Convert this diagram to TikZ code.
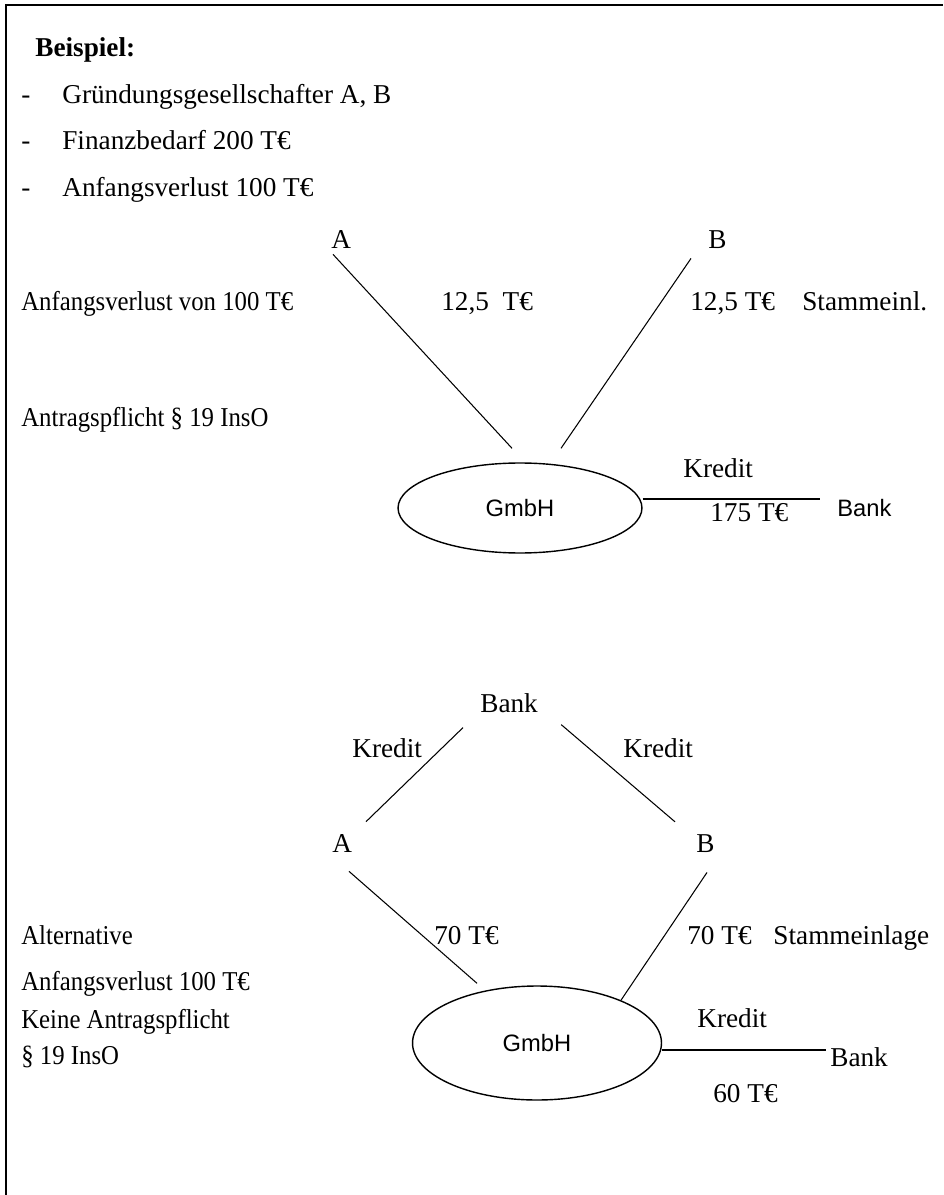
\documentclass[tikz,border=0pt]{standalone}
\usepackage{fontspec}
\setmainfont{Liberation Serif}
\setsansfont{Liberation Sans}
\newfontfamily\schmal[FakeStretch=0.91]{Liberation Serif}
\usetikzlibrary{calc}
\usetikzlibrary{shapes.geometric}
\tikzset{
	% Text set at its baseline, ellipse for the company, thin links
	plain text/.style={anchor=base west,inner sep=0pt,font=\fontsize{15.5}{18}\selectfont},
	narrow text/.style={plain text,font=\schmal\fontsize{15.5}{18}\selectfont},
	sans text/.style={anchor=base west,inner sep=0pt,font=\sffamily\fontsize{13.5}{16}\selectfont},
	firm node/.style={ellipse,draw,line width=0.8pt,inner sep=0pt,font=\sffamily\fontsize{13.5}{16}\selectfont},
	link/.style={line width=0.6pt}
}
\begin{document}
\begin{tikzpicture}[x=0.02cm,y=-0.02cm]
	% macros for placing a line of text at its baseline
	\newcommand{\posten}[3]{\node(#1)[plain text]at(#2){#3};}
	\newcommand{\notiz}[3]{\node(#1)[narrow text]at(#2){#3};}
	\useasboundingbox (0,0) rectangle (943,1195);
	\draw[line width=1.1pt] (6,1195) -- (6,5) -- (943,5);

	% heading and list
	\node(titel)[plain text,font=\fontsize{15.5}{18}\selectfont\bfseries]at(35,57){Beispiel:};
	\foreach \y/\n in {104/1,150/2,197/3}{\node(strich-\n)[plain text]at(21,\y){-};}
	\posten{punkt-1}{62,104}{Gründungsgesellschafter A, B}
	\posten{punkt-2}{62,150}{Finanzbedarf 200 T€}
	\posten{punkt-3}{62,197}{Anfangsverlust 100 T€}

	% first case
	\posten{a1}{331,249}{A}
	\posten{b1}{708,249}{B}
	\notiz{verlust1}{21,311}{Anfangsverlust von 100 T€}
	\posten{betrag-a1}{441,311}{12,5\hspace{0.5em}T€}
	\posten{betrag-b1}{690,311}{12,5 T€\hspace{1em}Stammeinl.}
	\notiz{pflicht1}{21,427}{Antragspflicht § 19 InsO}
	\node(gmbh1)[firm node,minimum width=4.88cm,minimum height=1.8cm]at(520,508){GmbH};
	\posten{kredit1}{683,477}{Kredit}
	\posten{summe1}{710,521}{175 T€}
	\node(bank1)[sans text]at(837,516){Bank};
	\coordinate(kend1)at($(bank1.base west)+(-17,-17)$);
	\draw[link] ($(a1.south west)+(2,5)$) -- ($(gmbh1.north)+(-8,-14)$);
	\draw[link] ($(b1.south west)+(-17,9)$) -- ($(gmbh1.north)+(41,-14)$);
	\draw[link] ($(gmbh1.east)+(0,-9)$) -- (kend1);

	% alternative
	\posten{bank2}{480,712}{Bank}
	\posten{kredit-a2}{352,757}{Kredit}
	\posten{kredit-b2}{623,757}{Kredit}
	\posten{a2}{332,852}{A}
	\posten{b2}{696,852}{B}
	\notiz{alternative}{21,944}{Alternative}
	\posten{betrag-a2}{434,944}{70 T€}
	\posten{betrag-b2}{687,944}{70 T€\hspace{0.8em}Stammeinlage}
	\notiz{verlust2}{21,990}{Anfangsverlust 100 T€}
	\notiz{pflicht2}{21,1028}{Keine Antragspflicht}
	\notiz{paragraf2}{21,1064}{§ 19 InsO}
	\node(gmbh2)[firm node,minimum width=4.98cm,minimum height=2.28cm]at(537,1043){GmbH};
	\posten{kredit2}{697,1027}{Kredit}
	\posten{bank3}{830,1066}{Bank}
	\posten{summe2}{713,1102}{60 T€}
	\coordinate(kend2)at($(bank3.base west)+(-4,-16)$);
	\draw[link] ($(bank2.south west)+(-17,15)$) -- ($(a2.north west)+(34,-12)$);
	\draw[link] ($(bank2.south east)+(23,12)$) -- ($(b2.north west)+(-21,-12)$);
	\draw[link] ($(a2.south west)+(17,19)$) -- ($(gmbh2.north)+(-60,-2)$);
	\draw[link] ($(b2.south west)+(11,20)$) -- (gmbh2.27);
	\draw[link] ($(gmbh2.east)+(0,7)$) -- (kend2);
\end{tikzpicture}
\end{document}
